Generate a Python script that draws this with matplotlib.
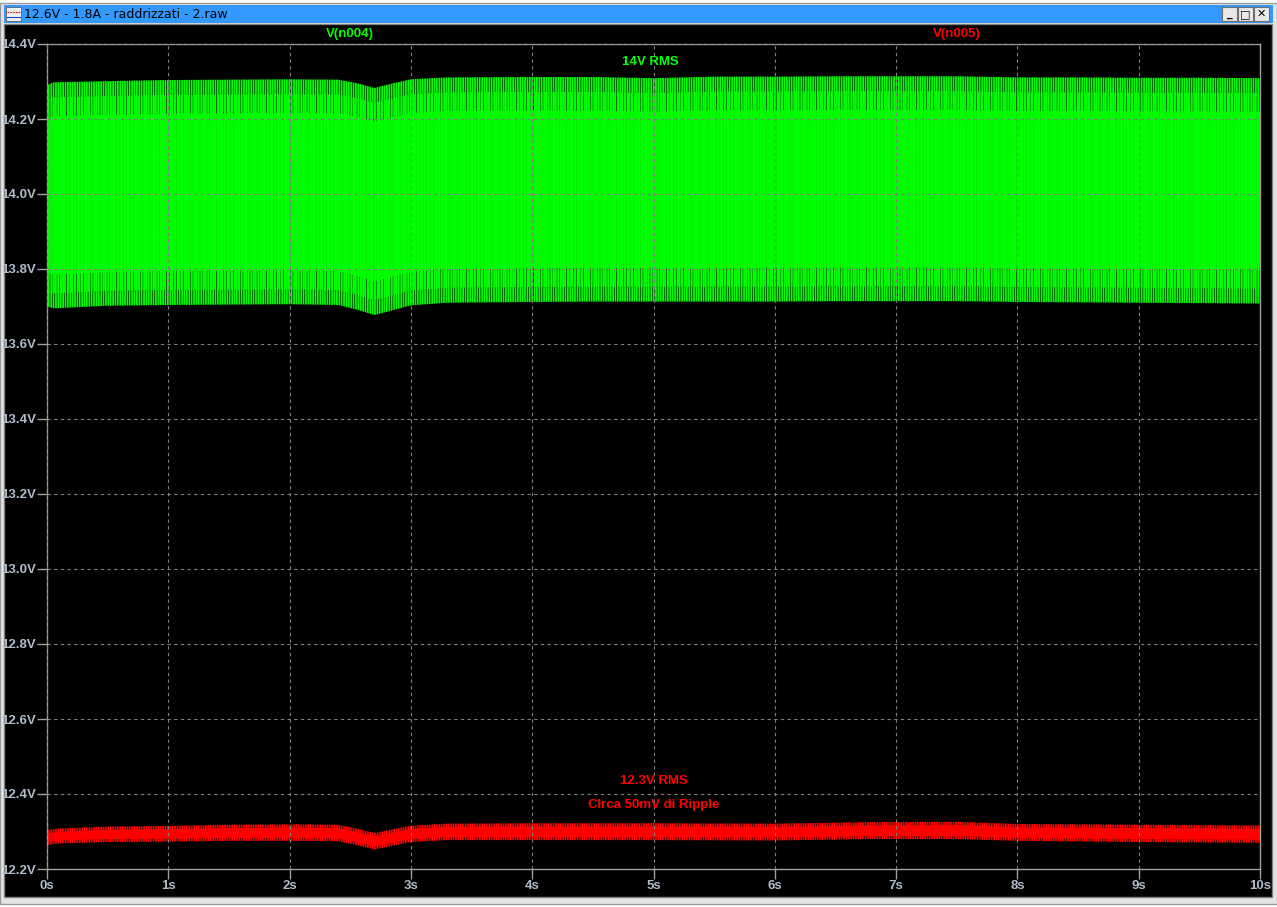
import matplotlib
matplotlib.use('Agg')
import matplotlib.pyplot as plt
from matplotlib.patches import Rectangle
from matplotlib.lines import Line2D

W, H = 1277, 907

# envelope of V(n004) (time in s, volts)
t_green = [0.0, 0.05, 0.5, 1.0, 1.5, 2.0, 2.4, 2.55, 2.7, 2.85, 3.0, 3.3,
           4.0, 4.5, 5.0, 5.5, 6.0, 6.5, 7.0, 7.5, 8.0, 8.5, 9.0, 9.5, 10.0]
green_hi = [14.290, 14.298, 14.301, 14.304, 14.305, 14.306, 14.305, 14.296,
            14.283, 14.295, 14.306, 14.311, 14.312, 14.312, 14.309, 14.313,
            14.313, 14.314, 14.314, 14.314, 14.311, 14.311, 14.310, 14.310,
            14.309]
green_lo = [13.700, 13.695, 13.702, 13.704, 13.705, 13.706, 13.704, 13.692,
            13.677, 13.690, 13.703, 13.710, 13.712, 13.713, 13.713, 13.713,
            13.713, 13.714, 13.714, 13.714, 13.712, 13.711, 13.710, 13.709,
            13.708]

# envelope of V(n005)
t_red = [0.0, 0.1, 0.5, 1.0, 1.5, 2.0, 2.4, 2.55, 2.7, 2.85, 3.0, 3.3,
         4.0, 5.0, 6.0, 6.8, 7.5, 8.0, 9.0, 10.0]
red_hi = [12.304, 12.308, 12.313, 12.315, 12.318, 12.319, 12.318, 12.308,
          12.296, 12.306, 12.315, 12.321, 12.322, 12.322, 12.321, 12.325,
          12.326, 12.320, 12.318, 12.316]
red_lo = [12.264, 12.268, 12.272, 12.273, 12.275, 12.275, 12.274, 12.264,
          12.252, 12.262, 12.272, 12.277, 12.277, 12.277, 12.276, 12.280,
          12.280, 12.275, 12.272, 12.270]

y_ticks = [12.2, 12.4, 12.6, 12.8, 13.0, 13.2, 13.4, 13.6, 13.8, 14.0, 14.2, 14.4]
y_labels = ['12.2V', '12.4V', '12.6V', '12.8V', '13.0V', '13.2V', '13.4V',
            '13.6V', '13.8V', '14.0V', '14.2V', '14.4V']
x_ticks = list(range(11))
x_labels = ['%ds' % s for s in x_ticks]

GREEN = '#00ff00'
RED = '#ff0000'
AXCOL = '#a0a0a0'
LABCOL = '#b0bccc'

plt.rcParams['font.family'] = ['Liberation Sans', 'DejaVu Sans']
plt.rcParams['hatch.linewidth'] = 1.3

fig = plt.figure(figsize=(W / 100, H / 100), dpi=100, facecolor='#ffffff')


def rect(x0, y0, x1, y1, z=-10, **kw):
    fig.patches.append(Rectangle((x0 / W, 1 - y1 / H), (x1 - x0) / W, (y1 - y0) / H,
                                 transform=fig.transFigure, zorder=z, **kw))


# window chrome
rect(0, 3, 1277, 904, facecolor='#e4e4e4', edgecolor='#9a9a9a', linewidth=1)
rect(4, 5, 1273, 23, facecolor='#3399ff', edgecolor='none')
rect(4, 24, 1272, 897, facecolor='#000000', edgecolor='#808080', linewidth=1)
# icon
rect(6, 7, 21, 21, z=2, facecolor='#f0f0f0', edgecolor='#606060', linewidth=0.6)
fig.lines.append(Line2D([7 / W, 20 / W], [1 - 12 / H, 1 - 12 / H], transform=fig.transFigure,
                        color='red', linestyle=(0, (1.5, 1)), linewidth=0.8, zorder=3))
fig.lines.append(Line2D([7 / W, 20 / W], [1 - 17 / H, 1 - 17 / H], transform=fig.transFigure,
                        color='#2040c0', linewidth=0.8, zorder=3))
fig.text(24 / W, 1 - 14.5 / H, '12.6V - 1.8A - raddrizzati - 2.raw', fontsize=9,
         color='black', va='center', ha='left', family=['DejaVu Sans'])
# title bar buttons
for bx, glyph in [(1222, '_'), (1238, '□'), (1254, '✕')]:
    rect(bx, 7, bx + 15, 21, z=2, facecolor='#e8e8e8', edgecolor='#707070', linewidth=0.8)
    fig.text((bx + 7.5) / W, 1 - 14 / H, glyph, fontsize=8, color='black', ha='center',
             va='center', fontweight='bold', family=['DejaVu Sans'])

# plot area
ax = fig.add_axes([47 / W, 1 - 869 / H, (1260 - 47) / W, (869 - 44) / H])
ax.set_facecolor('black')
ax.set_xlim(0, 10)
ax.set_ylim(12.2, 14.4)

# traces: hatched bands for the ripple strokes, denser towards the middle
ax.fill_between(t_green, green_lo, green_hi, facecolor='none', edgecolor=GREEN,
                hatch='|' * 7, linewidth=0, zorder=1)
ax.fill_between(t_green, [v + 0.04 for v in green_lo], [v - 0.04 for v in green_hi],
                facecolor='none', edgecolor=GREEN, hatch='|' * 5, linewidth=0, zorder=1)
ax.fill_between(t_green, [v + 0.09 for v in green_lo], [v - 0.09 for v in green_hi],
                facecolor=GREEN, edgecolor='none', alpha=0.88, zorder=1)
ax.fill_between(t_red, red_lo, red_hi, facecolor='none', edgecolor=RED,
                hatch='|' * 7, linewidth=0, zorder=1)
ax.fill_between(t_red, [v + 0.008 for v in red_lo], [v - 0.009 for v in red_hi],
                facecolor=RED, edgecolor='none', zorder=1)

ax.grid(True, color='#808080', linestyle=(0, (3, 3)), linewidth=0.8)
ax.set_axisbelow(False)
for s in ax.spines.values():
    s.set_color(AXCOL)
    s.set_linewidth(1)

ax.set_xticks(x_ticks)
ax.set_xticklabels(x_labels, fontweight='bold')
ax.set_yticks(y_ticks)
ax.set_yticklabels(y_labels, fontweight='bold')
ax.tick_params(direction='out', length=7, width=1, color=AXCOL, labelcolor=LABCOL,
               labelsize=9.5, pad=1)

# trace names and notes
fig.text(350 / W, 1 - 34 / H, 'V(n004)', color=GREEN, fontsize=9.5, fontweight='bold',
         ha='center', va='center')
fig.text(957 / W, 1 - 34 / H, 'V(n005)', color=RED, fontsize=9.5, fontweight='bold',
         ha='center', va='center')
ax.text(4.97, 14.352, '14V RMS', color=GREEN, fontsize=9.5, fontweight='bold',
        ha='center', va='center')
ax.text(5.0, 12.435, '12.3V RMS', color=RED, fontsize=9.5, fontweight='bold',
        ha='center', va='center')
ax.text(5.0, 12.371, 'CIrca 50mV di Ripple', color=RED, fontsize=9.5, fontweight='bold',
        ha='center', va='center')

fig.savefig('out.png', dpi=100, facecolor=fig.get_facecolor())
